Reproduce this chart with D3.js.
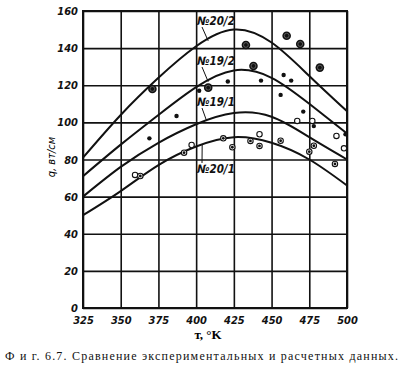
<!DOCTYPE html>
<html>
<head>
<meta charset="utf-8">
<script src="https://d3js.org/d3.v7.min.js"></script>
<style>
  body { margin: 0; background: #fff; }
  .tick text { font-family: "Liberation Sans Narrow", "DejaVu Sans Condensed", sans-serif; font-style: italic; font-weight: bold; font-size: 11px; fill: #111; }
</style>
</head>
<body>
<svg width="410" height="371"></svg>
<script>
// temperature, K
var temps = [325, 350, 375, 400, 425, 450, 475, 500];
// calculated curves, q in W/cm
var curve202 = [81, 104, 124, 141, 150, 143, 125, 106];
var curve192 = [71, 88, 104, 119, 128, 124, 110, 94];
var curve191 = [60, 76, 89, 99, 105, 103, 92, 80];
var curve201 = [50, 63, 77, 87, 92, 89, 80, 66];
var curveNames = ["№20/2", "№19/2", "№19/1", "№20/1"];

// experimental points [T, q]
var bigDots = [[371, 118], [408, 118.7], [433, 141.7], [438, 130.4], [460, 146.7], [469, 142.2], [482, 129.5]];
var smallDots = [[369, 91.4], [387, 103.4], [402, 117], [421, 122], [443, 122.5], [458, 125.5], [463, 122.5], [456, 114.8], [471, 105.8], [478, 98], [499, 93.6]];
var openRings = [[359.5, 71.7], [397, 87.8], [442, 93.6], [467, 100.8], [477, 100.8], [493, 92.7], [498, 86]];
var dotRings = [[363, 71.1], [392, 83.7], [418, 91.4], [424, 86.6], [436, 90], [442, 87.3], [456, 90.1], [475, 84.2], [478, 87.4], [492, 77.6]];

var xTicks = [325, 350, 375, 400, 425, 450, 475, 500];
var yTicks = [0, 20, 40, 60, 80, 100, 120, 140, 160];

var svg = d3.select("svg");
var x = d3.scaleLinear().domain([325, 500]).range([83, 347]);
var y = d3.scaleLinear().domain([0, 160]).range([308, 11]);

// grid via axes
var gx = svg.append("g")
    .attr("transform", "translate(0," + y(0) + ")")
    .call(d3.axisBottom(x).tickValues(xTicks).tickSize(-(y(0) - y(160))).tickPadding(8).tickFormat(d3.format("d")));
var gy = svg.append("g")
    .attr("transform", "translate(" + x(325) + ",0)")
    .call(d3.axisLeft(y).tickValues(yTicks).tickSize(-(x(500) - x(325))).tickPadding(5).tickFormat(d3.format("d")));
svg.selectAll(".domain").remove();
svg.selectAll(".tick line").style("stroke", "#111").style("stroke-width", 1.6);

// frame
svg.append("rect")
    .attr("x", x(325)).attr("y", y(160))
    .attr("width", x(500) - x(325)).attr("height", y(0) - y(160))
    .style("fill", "none").style("stroke", "#111").style("stroke-width", 2);

// curves
var line = d3.line()
    .x(function(d, i) { return x(temps[i]); })
    .y(function(d) { return y(d); })
    .curve(d3.curveNatural);

var curvesAll = [curve202, curve192, curve191, curve201];
curvesAll.forEach(function(c) {
  svg.append("path")
      .attr("d", line(c))
      .style("fill", "none")
      .style("stroke", "#111")
      .style("stroke-width", 2);
});

// curve labels with leaders
var lab = svg.append("g")
    .style("font-family", "'Liberation Sans Narrow', 'DejaVu Sans Condensed', sans-serif")
    .style("font-style", "italic")
    .style("font-weight", "bold")
    .style("font-size", "11.5px")
    .style("fill", "#111");
var labY = [25, 65, 106, 173];
var leadT = [408, 408, 407, 404];
curveNames.forEach(function(n, i) {
  lab.append("text").attr("x", 197).attr("y", labY[i]).text(n);
  var qv = d3.scaleLinear().domain(temps).range(curvesAll[i])(leadT[i]);
  var y0 = i < 3 ? labY[i] + 2 : labY[i] - 10;
  svg.append("line")
      .attr("x1", 202).attr("y1", y0)
      .attr("x2", x(leadT[i])).attr("y2", y(qv))
      .style("stroke", "#111").style("stroke-width", 1);
});

// points
svg.append("g").selectAll("circle").data(bigDots).enter().append("circle")
    .attr("cx", function(d) { return x(d[0]); })
    .attr("cy", function(d) { return y(d[1]); })
    .attr("r", 4.3).style("fill", "#111");
svg.append("g").selectAll("circle").data(bigDots).enter().append("circle")
    .attr("cx", function(d) { return x(d[0]); })
    .attr("cy", function(d) { return y(d[1]); })
    .attr("r", 2.4).style("fill", "none").style("stroke", "#777").style("stroke-width", 0.7);
svg.append("g").selectAll("circle").data(smallDots).enter().append("circle")
    .attr("cx", function(d) { return x(d[0]); })
    .attr("cy", function(d) { return y(d[1]); })
    .attr("r", 2.2).style("fill", "#111");
svg.append("g").selectAll("circle").data(openRings.concat(dotRings)).enter().append("circle")
    .attr("cx", function(d) { return x(d[0]); })
    .attr("cy", function(d) { return y(d[1]); })
    .attr("r", 2.7).style("fill", "#fff").style("stroke", "#111").style("stroke-width", 1.1);
svg.append("g").selectAll("circle").data(dotRings).enter().append("circle")
    .attr("cx", function(d) { return x(d[0]); })
    .attr("cy", function(d) { return y(d[1]); })
    .attr("r", 1.4).style("fill", "#111");

// axis titles
svg.append("text")
    .attr("transform", "translate(55,157)rotate(-90)")
    .attr("text-anchor", "middle")
    .style("font-family", "'Liberation Sans Narrow', 'DejaVu Sans Condensed', sans-serif")
    .style("font-style", "italic")
    .style("font-size", "11px")
    .text("q, вт/см");
svg.append("text")
    .attr("x", 208).attr("y", 339)
    .attr("text-anchor", "middle")
    .style("font-family", "'Liberation Serif', 'DejaVu Serif', serif")
    .style("font-weight", "bold")
    .style("font-size", "13px")
    .text("т, °K");

// caption
svg.append("text")
    .attr("x", 5).attr("y", 360)
    .attr("textLength", 393).attr("lengthAdjust", "spacing")
    .style("font-family", "'Liberation Serif', 'DejaVu Serif', serif")
    .style("font-size", "12px")
    .style("fill", "#111")
    .text("Ф и г.   6.7. Сравнение экспериментальных и расчетных данных.");
</script>
</body>
</html>
